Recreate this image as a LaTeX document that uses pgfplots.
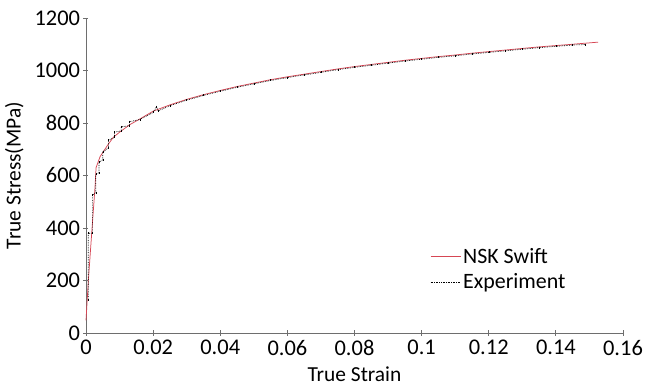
\documentclass[border=0pt]{standalone}
\usepackage{pgfplots}
\pgfplotsset{compat=1.18}
\usepackage{fontspec}
\setmainfont{Carlito}
\definecolor{swiftred}{RGB}{214,70,84}
\definecolor{axgray}{RGB}{110,110,110}
\begin{document}
\begin{tikzpicture}
\begin{axis}[
  name=ax,
  scale only axis,
  width=537bp, height=315bp,
  xmin=0, xmax=0.16, ymin=0, ymax=1200,
  axis lines=left,
  axis line style={axgray, line width=0.8pt, -},
  tick style={axgray, line width=0.8pt},
  major tick length=5bp,
  xtick={0,0.02,0.04,0.06,0.08,0.1,0.12,0.14,0.16},
  xticklabels={0,0.02,0.04,0.06,0.08,0.1,0.12,0.14,0.16},
  ytick={0,200,400,600,800,1000,1200},
  yticklabels={0,200,400,600,800,1000,1200},
  tick label style={font=\fontsize{22.5}{24}\selectfont, black},
  xticklabel style={yshift=-1bp},
  label style={font=\fontsize{21.5}{23}\selectfont, black},
  xlabel={True Strain},
  ylabel={True Stress(MPa)},
  xlabel style={yshift=-4bp},
  ylabel style={yshift=4bp},
  clip=false,
  legend style={draw=none, fill=none, at={(0.635,0.29)}, anchor=north west,
    font=\fontsize{22}{24}\selectfont, row sep=0bp,
    nodes={inner ysep=4.5bp},
    /tikz/every even column/.append style={column sep=2bp}},
  legend cell align=left,
  legend image code/.code={\draw[#1,mark=none,line width=1pt] (0bp,0bp) -- (30bp,0bp);},
]
\addplot[swiftred, line width=0.75pt] coordinates {
(0,48)(0.0007,200)(0.0017,380)(0.0027,558)(0.003,630)(0.0042,672)(0.0062,711)
(0.0081,745)(0.010,765)(0.0131,794)(0.016,815)(0.020,845)(0.025,869)(0.030,890)
(0.035,908)(0.040,924)(0.045,939)(0.050,952)(0.055,965)(0.060,976)(0.065,986)
(0.070,996)(0.075,1006)(0.080,1015)(0.085,1023)(0.090,1031)(0.095,1039)(0.100,1046)
(0.105,1053)(0.110,1059)(0.115,1066)(0.120,1072)(0.125,1078)(0.130,1084)(0.135,1090)
(0.140,1095)(0.145,1100)(0.1526,1108)
};
\addlegendentry{NSK Swift}
\addplot[black, densely dotted, line width=0.7pt, mark=|, mark size=1bp,
  mark options={solid, line width=0.4pt}] coordinates {
(0.0007,125)(0.0007,380)(0.0019,380)(0.0019,525)(0.0029,535)(0.0029,605)
(0.0039,610)(0.0039,650)(0.005,660)(0.005,690)(0.0067,705)(0.0067,735)
(0.0085,745)(0.0085,765)(0.0105,770)(0.0105,785)(0.013,790)(0.013,805)
(0.016,813)(0.020,840)(0.021,862)(0.0215,846)(0.025,866)(0.030,887)
(0.035,905)(0.040,921)(0.045,936)(0.050,949)(0.055,962)(0.060,973)(0.065,983)
(0.070,993)(0.075,1003)(0.080,1012)(0.085,1020)(0.090,1028)(0.095,1036)(0.100,1043)
(0.105,1050)(0.110,1056)(0.115,1063)(0.120,1069)(0.125,1075)(0.130,1081)(0.135,1087)
(0.140,1092)(0.145,1097)(0.1487,1099)
};
\addlegendentry{Experiment}
\end{axis}
\pgfresetboundingbox
\path ([xshift=-86bp,yshift=-56bp]ax.south west) rectangle ([xshift=23bp,yshift=18bp]ax.north east);
\end{tikzpicture}
\end{document}
